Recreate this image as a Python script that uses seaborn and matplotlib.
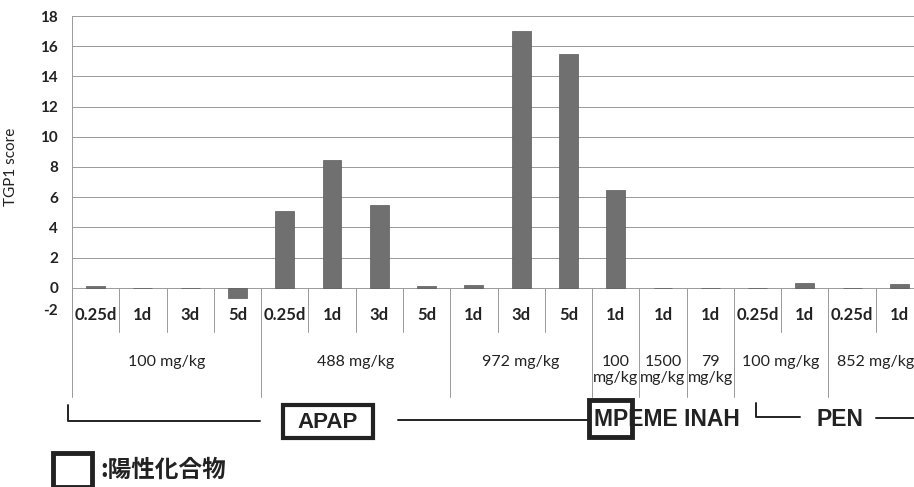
import pandas as pd
import seaborn as sns
import matplotlib.pyplot as plt
from matplotlib.transforms import blended_transform_factory
from matplotlib.patches import Rectangle
from matplotlib.lines import Line2D

# data
drugs = ['APAP'] * 11 + ['MP', 'EME', 'INAH'] + ['PEN'] * 4
doses = (['100 mg/kg'] * 4 + ['488 mg/kg'] * 4 + ['972 mg/kg'] * 3
         + ['100 mg/kg', '1500 mg/kg', '79 mg/kg']
         + ['100 mg/kg'] * 2 + ['852 mg/kg'] * 2)
times = ['0.25d', '1d', '3d', '5d',
         '0.25d', '1d', '3d', '5d',
         '1d', '3d', '5d',
         '1d', '1d', '1d',
         '0.25d', '1d', '0.25d', '1d']
scores = [0.1, 0.0, 0.0, -0.7,
          5.1, 8.45, 5.5, 0.1,
          0.2, 17.0, 15.5,
          6.5, 0.0, 0.0,
          0.0, 0.35, 0.0, 0.27]
legend_text = ':陽性化合物'

W, H = 914, 487
sns.set_style('white')
plt.rcParams['font.family'] = ['Lato', 'Noto Sans CJK JP', 'DejaVu Sans']
plt.rcParams['axes.unicode_minus'] = False

fig = plt.figure(figsize=(W / 100, H / 100), dpi=100)
ax = fig.add_axes([72 / W, 1 - 318 / H, 851 / W, (318 - 16) / H])


def fy(y):
    return 1 - y / H


df = pd.DataFrame({'key': [str(i) for i in range(len(scores))], 'score': scores})
sns.barplot(data=df, x='key', y='score', color='#707070', width=0.4,
            saturation=1, ax=ax, edgecolor='#5a5a5a', linewidth=0.5)

ax.set_ylim(-2, 18)
ax.set_xlim(-0.5, len(scores) - 0.5)
ax.set_yticks(range(-2, 19, 2))
ax.tick_params(axis='y', labelsize=11, labelcolor='#222', length=4,
               color='#999', width=0.7, pad=6)
for lab in ax.get_yticklabels():
    lab.set_fontweight('bold')
    if lab.get_text() == '-2':
        lab.set_va('bottom')
ax.set_xticks([])
ax.set_xlabel('')
ax.grid(axis='y', color='#999', lw=0.7)
ax.set_axisbelow(True)
for s in ['top', 'right', 'bottom']:
    ax.spines[s].set_visible(False)
ax.spines['left'].set_color('#999')
ax.spines['left'].set_linewidth(0.7)
ax.set_ylabel('TGP1 score', fontsize=11, color='#222')
ax.yaxis.set_label_coords((18 - 72) / 851, 0.5)

trans = blended_transform_factory(ax.transData, fig.transFigure)

# time labels
for i, t in enumerate(times):
    ax.text(i, fy(315), t, transform=trans, ha='center', va='center',
            fontsize=12, fontweight='bold', color='#222')

# group runs
runs = []
start = 0
for i in range(1, len(doses) + 1):
    if i == len(doses) or (drugs[i], doses[i]) != (drugs[start], doses[start]):
        runs.append((start, i - 1))
        start = i
group_edges = {r[0] - 0.5 for r in runs} | {runs[-1][1] + 0.5}

for i in range(len(scores) + 1):
    b = i - 0.5
    bottom = 397 if b in group_edges else 332
    fig.add_artist(Line2D([b, b], [fy(288), fy(bottom)], transform=trans,
                          color='#999', lw=0.7))

for a, b in runs:
    c = (a + b) / 2
    if a == b:
        num, unit = doses[a].split(' ')
        ax.text(c, fy(370), num + '\n' + unit, transform=trans, ha='center',
                va='center', fontsize=11.5, color='#222', linespacing=1.1)
    else:
        ax.text(c, fy(362), doses[a], transform=trans, ha='center',
                va='center', fontsize=11.5, color='#222')

# compound brackets
ft = fig.transFigure


def line(xs, ys, lw=1.4):
    fig.add_artist(Line2D([x / W for x in xs], [fy(y) for y in ys],
                          transform=ft, color='#222', lw=lw))


def box(x0, y0, x1, y1, lw=3):
    fig.add_artist(Rectangle((x0 / W, fy(y1)), (x1 - x0) / W, (y1 - y0) / H,
                             transform=ft, fill=False, edgecolor='#222', lw=lw))


line([68, 68, 260], [405, 421, 421])
box(283, 405, 373, 438)
fig.text(328 / W, fy(422), drugs[0], ha='center', va='center', fontsize=16,
         fontweight='bold', family='Liberation Sans', color='#222')
line([398, 590], [420, 420])
box(589, 400, 632, 437, lw=3.5)
fig.text(594 / W, fy(420), 'MPEME INAH', ha='left', va='center', fontsize=16.5,
         fontweight='bold', family='Liberation Sans', color='#222')
line([756, 756, 800], [403, 417, 417])
fig.text(840 / W, fy(420), 'PEN', ha='center', va='center', fontsize=16.5,
         fontweight='bold', family='Liberation Sans', color='#222')
line([876, 914], [418, 418])

# legend
box(53, 453, 92, 487, lw=3.5)
fig.text(100 / W, fy(470), legend_text, ha='left', va='center', fontsize=17,
         fontweight='bold', family=['Noto Sans CJK JP', 'DejaVu Sans'],
         color='#222')

fig.savefig('out.png', dpi=100)
